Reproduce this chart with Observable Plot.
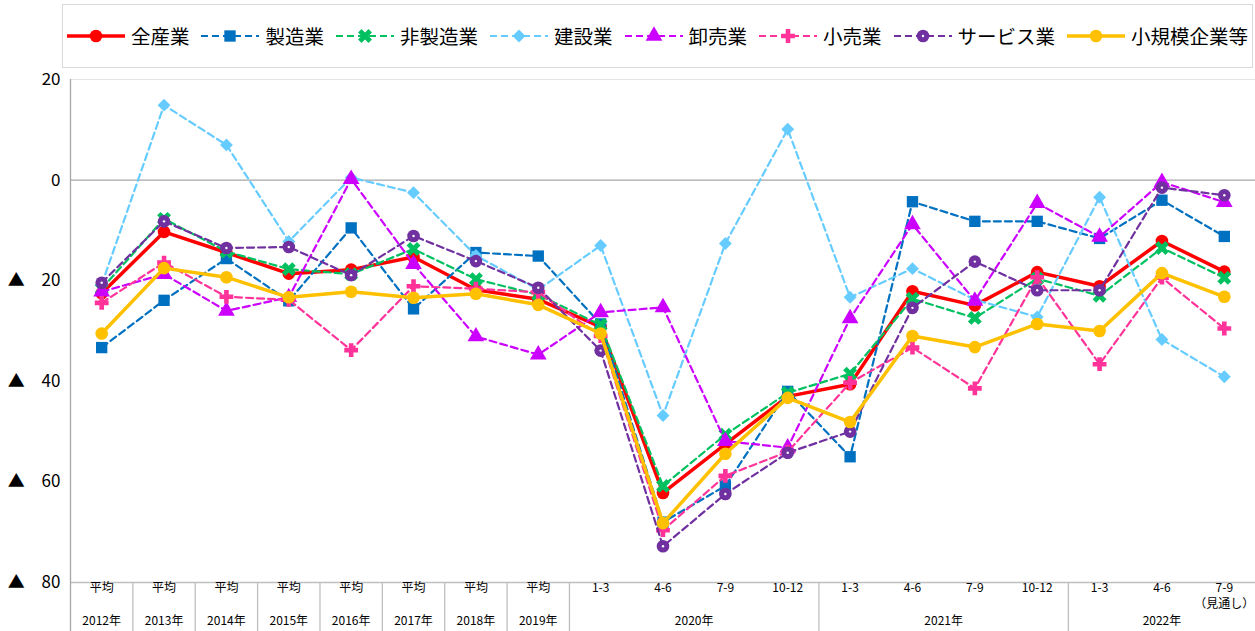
<!DOCTYPE html>
<html><head><meta charset="utf-8">
<script src="https://cdn.jsdelivr.net/npm/d3@7"></script>
<script src="https://cdn.jsdelivr.net/npm/@observablehq/plot@0.6"></script>
<style>
body{margin:0;background:#fff;font-family:"Noto Sans CJK JP","Noto Sans",sans-serif;}
#legend{position:relative;height:60px;width:1255px;}
#legend .box{position:absolute;left:62px;top:4px;width:1191px;height:64px;border:1px solid #d9d9d9;box-sizing:border-box;display:flex;align-items:center;justify-content:center;gap:12px;z-index:2;}
.item{display:flex;align-items:center;font-size:19.5px;color:#000;line-height:1;}
.item svg{margin-right:6px;}
#chart svg{display:block;}
</style></head><body>
<div id="legend"><div class="box"></div></div>
<div id="chart"></div>
<script>
// ---- data ----
const periods = ["平均","平均","平均","平均","平均","平均","平均","平均",
  "1-3","4-6","7-9","10-12","1-3","4-6","7-9","10-12","1-3","4-6","7-9"];
const notes = ["","","","","","","","","","","","","","","","","","","（見通し）"];
const years = ["2012年","2013年","2014年","2015年","2016年","2017年","2018年","2019年",
  "2020年","2020年","2020年","2020年","2021年","2021年","2021年","2021年","2022年","2022年","2022年"];
const yTicks = [20, 0, -20, -40, -60, -80];

const allIndustries = [-22.5,-10.3,-14.4,-18.6,-17.8,-15.3,-21.8,-23.7,-29.2,-62.2,-52.5,-43.0,-40.6,-22.1,-24.9,-18.3,-21.1,-12.1,-18.2];
const manufacturing = [-33.3,-23.9,-15.6,-24.0,-9.5,-25.6,-14.4,-15.1,-28.6,-68.0,-60.8,-42.0,-55.0,-4.3,-8.2,-8.2,-11.6,-4.0,-11.2];
const nonManufacturing = [-21.6,-7.7,-14.2,-17.7,-18.7,-13.7,-19.7,-22.8,-28.8,-60.8,-50.6,-42.3,-38.5,-23.6,-27.4,-19.6,-23.0,-13.5,-19.4];
const construction = [-20.8,14.9,7.0,-12.2,0.5,-2.5,-15.0,-21.8,-13.0,-46.8,-12.6,10.1,-23.3,-17.6,-23.8,-27.2,-3.4,-31.7,-39.1];
const wholesale = [-22.2,-18.7,-26.0,-23.3,0.2,-16.7,-31.1,-34.7,-26.3,-25.3,-51.9,-53.2,-27.5,-8.8,-24.0,-4.6,-11.3,-0.4,-4.4];
const retail = [-24.4,-16.4,-23.2,-23.8,-33.8,-21.1,-21.6,-22.3,-31.0,-69.6,-58.8,-54.0,-40.3,-33.3,-41.4,-19.3,-36.6,-19.4,-29.5];
const services = [-20.4,-8.2,-13.5,-13.3,-18.9,-11.1,-16.1,-21.4,-33.9,-72.8,-62.4,-54.2,-50.0,-25.4,-16.2,-21.9,-21.9,-1.5,-3.0];
const smallBusiness = [-30.5,-17.5,-19.3,-23.3,-22.2,-23.4,-22.6,-24.8,-30.5,-68.2,-54.4,-43.3,-48.1,-31.0,-33.2,-28.6,-30.0,-18.5,-23.2];

// ---- symbols ----
function rotated(points){
  const c = Math.SQRT1_2;
  return points.map(([x,y]) => [(x - y) * c, (x + y) * c]);
}
const symbolX = {draw(ctx, size){
  const r = Math.sqrt(size / 5) / 2;
  const pts = rotated([[-3*r,-r],[-r,-r],[-r,-3*r],[r,-3*r],[r,-r],[3*r,-r],[3*r,r],[r,r],[r,3*r],[-r,3*r],[-r,r],[-3*r,r]]);
  ctx.moveTo(pts[0][0], pts[0][1]);
  for (const p of pts.slice(1)) ctx.lineTo(p[0], p[1]);
  ctx.closePath();
}};

// ---- styles ----
const series = [
  {name:"全産業", values:allIndustries, color:"#FF0000", width:3.5, dash:null, symbol:d3.symbolCircle, r:6.3},
  {name:"製造業", values:manufacturing, color:"#0070C0", width:2.2, dash:"7,4", symbol:d3.symbolSquare, r:6.4},
  {name:"非製造業", values:nonManufacturing, color:"#00C060", width:2.2, dash:"7,4", symbol:symbolX, r:6.2},
  {name:"建設業", values:construction, color:"#66CCFF", width:2.2, dash:"7,4", symbol:d3.symbolDiamond2, r:5.8},
  {name:"卸売業", values:wholesale, color:"#CC00FF", width:2.2, dash:"7,4", symbol:d3.symbolTriangle, r:6.2},
  {name:"小売業", values:retail, color:"#FF3399", width:2.2, dash:"7,4", symbol:d3.symbolCross, r:5.8},
  {name:"サービス業", values:services, color:"#7030A0", width:2.2, dash:"7,4", symbol:d3.symbolCircle, r:6.3, center:true},
  {name:"小規模企業等", values:smallBusiness, color:"#FFC000", width:3.5, dash:null, symbol:d3.symbolCircle, r:6.3}
];

// ---- legend ----
const box = document.querySelector("#legend .box");
for (const s of series) {
  const item = document.createElement("div");
  item.className = "item";
  const path = d3.symbol().type(s.symbol).size(Math.PI * s.r * s.r)();
  item.innerHTML = `<svg width="58" height="20" viewBox="0 0 58 20">
    <line x1="0" x2="58" y1="10" y2="10" stroke="${s.color}" stroke-width="${s.width}" ${s.dash ? `stroke-dasharray="${s.dash}"` : ""}/>
    <path d="${path}" transform="translate(29,10)" fill="${s.color}"/>
    ${s.center ? `<circle cx="29" cy="10" r="1.2" fill="#fff"/>` : ""}
  </svg><span>${s.name}</span>`;
  box.appendChild(item);
}

// ---- chart ----
const rows = series.flatMap(s => s.values.map((v, i) => ({series: s.name, i, v})));
const idx = periods.map((p, i) => ({i, period: p, note: notes[i], year: years[i]}));
const groups = d3.groups(idx, d => d.year);
const yearCenters = groups.map(([year, arr]) => ({year, x: d3.mean(arr, d => d.i)}));
const boundaries = groups.map(([, arr]) => d3.max(arr, d => d.i) + 0.5).slice(0, -1);
const yMin = d3.min(yTicks), yMax = d3.max(yTicks);
const below = yMin - 10;

const marks = [
  Plot.ruleY([yMax], {stroke:"#e4e4e4", strokeWidth:1}),
  Plot.ruleY([0], {stroke:"#a6a6a6", strokeWidth:1.3}),
  Plot.ruleY([yMin], {stroke:"#bfbfbf", strokeWidth:1.3}),
  Plot.ruleX(boundaries, {x: d => d, y1: yMin, y2: below, stroke:"#bfbfbf", strokeWidth:1.3}),
  Plot.ruleX([-0.5], {x: d => d, y1: yMax, y2: below, stroke:"#a6a6a6", strokeWidth:1.3}),
  Plot.text(idx, {x:"i", text:"period", frameAnchor:"bottom", dy:9, fontSize:12, fill:"#000"}),
  Plot.text(idx, {x:"i", text:"note", frameAnchor:"bottom", dy:25, fontSize:12, fill:"#000"}),
  Plot.text(yearCenters, {x:"x", text:"year", frameAnchor:"bottom", dy:42, fontSize:12, fill:"#000"})
];
for (const s of series) {
  const d = rows.filter(r => r.series === s.name);
  marks.push(Plot.line(d, {x:"i", y:"v", stroke:s.color, strokeWidth:s.width, strokeDasharray:s.dash ?? undefined, strokeLinejoin:"round"}));
  marks.push(Plot.dot(d, {x:"i", y:"v", fill:s.color, r:s.r, symbol:() => s.symbol}));
  if (s.center) marks.push(Plot.dot(d, {x:"i", y:"v", fill:"#fff", r:1.2}));
}

const chart = Plot.plot({
  width: 1255,
  height: 571,
  marginTop: 19,
  marginBottom: 49,
  marginLeft: 70,
  marginRight: 0,
  style: {fontFamily: '"Noto Sans CJK JP","Noto Sans",sans-serif', fontSize: "17px", background: "transparent", color: "#000"},
  x: {type: "linear", domain: [-0.5, periods.length - 0.5], axis: null},
  y: {domain: [yMin, yMax], ticks: yTicks, tickSize: 0, tickPadding: 10, label: null,
      tickFormat: d => d < 0 ? "▲\u2003" + (-d) : String(d)},
  symbol: {type: "identity"},
  marks
});
document.getElementById("chart").appendChild(chart);
</script></body></html>
